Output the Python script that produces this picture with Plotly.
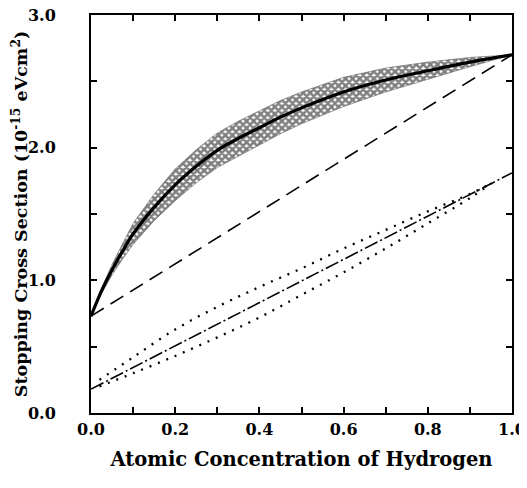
import plotly.graph_objects as go

# hydrogen concentration grid for the mixed-target curve and its uncertainty band
conc = [0, 0.025, 0.05, 0.075, 0.1, 0.15, 0.2, 0.25, 0.3, 0.35, 0.4, 0.45, 0.5, 0.6, 0.7, 0.8, 0.9, 1.0]
stop_fit = [0.73, 0.92, 1.08, 1.22, 1.35, 1.55, 1.72, 1.86, 1.98, 2.07, 2.15, 2.23, 2.30, 2.42, 2.51, 2.58, 2.645, 2.70]
band_hi = [0.73, 0.94, 1.12, 1.28, 1.43, 1.65, 1.84, 1.985, 2.11, 2.20, 2.28, 2.355, 2.42, 2.53, 2.60, 2.645, 2.68, 2.70]
band_lo = [0.73, 0.90, 1.04, 1.16, 1.27, 1.45, 1.60, 1.735, 1.85, 1.94, 2.02, 2.105, 2.18, 2.31, 2.42, 2.515, 2.61, 2.70]

# Bragg-rule straight lines
bragg_x = [0, 1]
bragg_y = [0.73, 2.70]
low_x = [0, 1]
low_y = [0.18, 1.81]

# dotted limits around the lower line
dot_x = [0.02, 0.1, 0.2, 0.3, 0.4, 0.5, 0.6, 0.7, 0.8, 0.9, 0.95]
dot_hi = [0.25, 0.42, 0.63, 0.80, 0.95, 1.09, 1.24, 1.38, 1.52, 1.65, 1.73]
dot_lo = [0.20, 0.30, 0.43, 0.57, 0.72, 0.89, 1.06, 1.24, 1.43, 1.62, 1.73]

FONT = 'DejaVu Serif'
BLACK = '#000000'

fig = go.Figure()

# hatched band as closed polygon
fig.add_trace(go.Scatter(
    x=conc + conc[::-1],
    y=band_hi + band_lo[::-1],
    mode='lines',
    line=dict(width=0.6, color='#666666'),
    fill='toself',
    fillcolor='white',
    fillpattern=dict(shape='x', size=5, solidity=0.75, fgcolor=BLACK, bgcolor='white'),
    hoverinfo='skip',
))
fig.add_trace(go.Scatter(
    x=conc, y=stop_fit, mode='lines',
    line=dict(color=BLACK, width=3.2, shape='spline'),
))
fig.add_trace(go.Scatter(
    x=bragg_x, y=bragg_y, mode='lines',
    line=dict(color=BLACK, width=1.6, dash='15px,8px'),
))
fig.add_trace(go.Scatter(
    x=low_x, y=low_y, mode='lines',
    line=dict(color=BLACK, width=1.6, dash='14px,3px,2px,3px'),
))
for ys in (dot_hi, dot_lo):
    fig.add_trace(go.Scatter(
        x=dot_x, y=ys, mode='lines',
        line=dict(color=BLACK, width=2.3, dash='2px,7px', shape='spline'),
    ))

axis_common = dict(
    showline=True, linecolor=BLACK, linewidth=2, mirror='allticks',
    ticks='inside', ticklen=6, tickwidth=1.5, tickcolor=BLACK,
    showgrid=False, zeroline=False, automargin=False,
    ticklabeloverflow='allow',
    tickfont=dict(family=FONT, size=16, color=BLACK, weight='bold'),
)

# page body adds ~8px offset, margins compensate for it
fig.update_layout(
    width=527, height=488,
    margin=dict(l=83, r=23, t=7, b=83),
    paper_bgcolor='white', plot_bgcolor='white',
    showlegend=False,
    xaxis=dict(
        **axis_common,
        range=[0, 1], dtick=0.2, tickformat='.1f', ticklabelstandoff=1,
        minor=dict(ticks='inside', dtick=0.1, ticklen=6, tickwidth=1.5, tickcolor=BLACK),
        title=dict(text='Atomic Concentration of Hydrogen', standoff=14,
                   font=dict(family=FONT, size=19.5, color=BLACK, weight='bold')),
    ),
    yaxis=dict(
        **axis_common,
        range=[0, 3], dtick=1, tickformat='.1f', ticklabelstandoff=30,
        minor=dict(ticks='inside', dtick=0.5, ticklen=6, tickwidth=1.5, tickcolor=BLACK),
        title=dict(text='Stopping Cross Section (10<sup>-15</sup> eVcm<sup>2</sup>)', standoff=6,
                   font=dict(family=FONT, size=17.5, color=BLACK, weight='bold')),
    ),
)

fig.write_html('out.html')
